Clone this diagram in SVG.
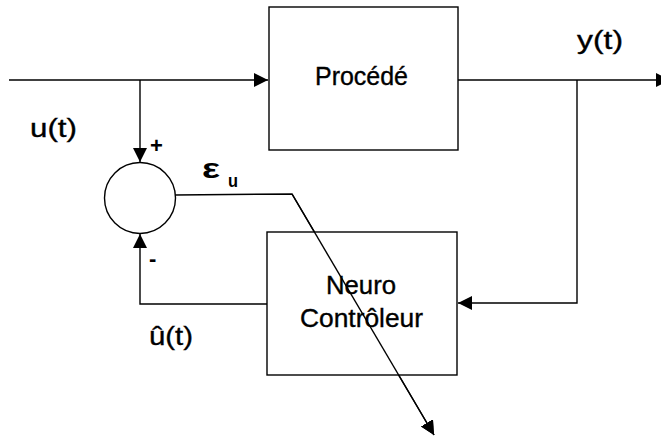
<svg xmlns="http://www.w3.org/2000/svg" width="661" height="437" viewBox="0 0 661 437">
<style>
.ln{fill:none;stroke:#000;stroke-width:1.4}
.bx{fill:#fff;stroke:#000;stroke-width:1.4}
.t{font-family:"Liberation Sans",Arial,sans-serif;font-size:25px;fill:#000;stroke:#000;stroke-width:0.35}
.s{font-family:"Liberation Sans",Arial,sans-serif;font-weight:bold;fill:#000}
</style>
<defs>
<marker id="ah" viewBox="0 0 14 14" refX="14" refY="7" markerWidth="14" markerHeight="14" markerUnits="userSpaceOnUse" orient="auto">
<path d="M0,0 L14,7 L0,14 Z" fill="#000"/>
</marker>
</defs>
<rect width="661" height="437" fill="#fff"/>
<g id="connectors">
<line class="ln" x1="9" y1="80" x2="268" y2="80" marker-end="url(#ah)"/>
<line class="ln" x1="140" y1="80" x2="140" y2="162" marker-end="url(#ah)"/>
<line class="ln" x1="458" y1="80" x2="670" y2="80" marker-end="url(#ah)"/>
<polyline class="ln" points="577,80 577,303 458,303" marker-end="url(#ah)"/>
<polyline class="ln" points="267,304 140,304 140,234" marker-end="url(#ah)"/>
<polyline class="ln" points="175,195 292,194 434,435" marker-end="url(#ah)"/>
</g>
<g id="procede">
<rect class="bx" x="269" y="7" width="189" height="143"/>
<text class="t" x="315" y="85" textLength="93" lengthAdjust="spacingAndGlyphs">Procédé</text>
</g>
<g id="neuro">
<rect class="bx" x="267" y="232" width="190" height="143"/>
<text class="t" x="326" y="294" textLength="70" lengthAdjust="spacingAndGlyphs">Neuro</text>
<text class="t" x="300" y="327" textLength="123" lengthAdjust="spacingAndGlyphs">Contrôleur</text>
</g>
<g id="sum">
<circle cx="140" cy="198" r="35.5" fill="#fff" stroke="#000" stroke-width="1.4"/>
</g>
<line class="ln" x1="292" y1="194" x2="434" y2="435" marker-end="url(#ah)"/>
<g id="labels">
<text class="t" x="30" y="137" font-size="27" textLength="47" lengthAdjust="spacingAndGlyphs">u(t)</text>
<text class="t" x="577" y="49" font-size="27" textLength="46" lengthAdjust="spacingAndGlyphs">y(t)</text>
<text class="t" x="149" y="345" font-size="27" textLength="44" lengthAdjust="spacingAndGlyphs">û(t)</text>
<text class="s" x="150" y="153" font-size="22">+</text>
<text class="s" x="149" y="266" font-size="22">-</text>
<text class="s" x="202" y="178" font-size="28" textLength="18" lengthAdjust="spacingAndGlyphs">ε</text>
<text class="s" x="228" y="187" font-size="19" textLength="10" lengthAdjust="spacingAndGlyphs">u</text>
</g>
</svg>
